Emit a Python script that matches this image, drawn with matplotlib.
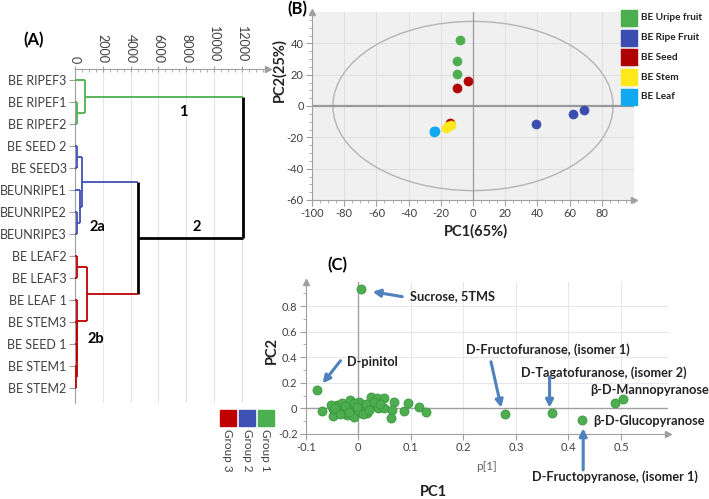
import matplotlib
matplotlib.use('Agg')
import matplotlib.pyplot as plt
from matplotlib.patches import Ellipse, Rectangle
from matplotlib.ticker import MultipleLocator
import numpy as np

plt.rcParams['font.family'] = ['Lato', 'DejaVu Sans']
plt.rcParams['axes.unicode_minus'] = False

W, H = 709, 499

# ---- (A) hierarchical clustering ----
leaves = ['BE RIPEF3', 'BE RIPEF1', 'BE RIPEF2', 'BE SEED 2', 'BE SEED3',
          'BEUNRIPE1', 'BEUNRIPE2', 'BEUNRIPE3', 'BE LEAF2', 'BE LEAF3',
          'BE LEAF 1', 'BE STEM3', 'BE SEED 1', 'BE STEM1', 'BE STEM2']
leaf_group = [1, 1, 1, 2, 2, 2, 2, 2, 3, 3, 3, 3, 3, 3, 3]
# (child a, child b, distance); ids >= 15 refer to earlier merges
merges = [(1, 2, 165), (0, 15, 720), (3, 4, 165), (6, 7, 145), (5, 18, 360),
          (17, 19, 525), (13, 14, 100), (12, 21, 120), (11, 22, 140),
          (10, 23, 170), (8, 9, 150), (25, 24, 840), (20, 26, 4530),
          (16, 27, 12050)]
group_names = ['Group 1', 'Group 2', 'Group 3']
group_colors = {1: '#4caf50', 2: '#3f51b5', 3: '#c00000'}

# ---- (B) PCA scores ----
score_names = ['BE Uripe fruit', 'BE Ripe Fruit', 'BE Seed', 'BE Stem', 'BE Leaf']
score_colors = ['#4cae4f', '#3b4db0', '#b00000', '#ffe81a', '#10a8f0']
score_x = [[-8, -10, -10], [39, 62, 69], [-3, -10, -14],
           [-17, -15.5, -13.5], [-24.5, -24, -23.8]]
score_y = [[42, 29, 20.5], [-11.5, -5, -2.5], [16, 11.5, -11],
           [-14, -13, -12], [-16.5, -16, -15.8]]

# ---- (C) loadings ----
load_x = [0.005, -0.079, -0.070, -0.049, -0.049, -0.040, -0.034, -0.031, -0.021,
          -0.021, -0.015, -0.012, -0.009, -0.005, 0.001, 0.004, 0.010, 0.017,
          0.025, 0.026, 0.036, 0.038, 0.049, 0.048, 0.068, 0.065, 0.063, 0.087,
          0.094, 0.115, 0.129, -0.052, -0.028, -0.045, -0.035, -0.025, -0.018,
          -0.008, 0.0, 0.008, 0.015, 0.020, 0.030, 0.042, -0.002,
          0.280, 0.368, 0.425, 0.489, 0.504]
load_y = [0.93, 0.143, -0.021, -0.060, -0.008, 0.026, -0.026, 0.039, 0.0,
          -0.052, 0.065, -0.013, -0.065, 0.026, 0.052, -0.026, 0.013, -0.039,
          0.091, 0.026, 0.078, 0.0, 0.078, 0.0, 0.047, -0.013, -0.078, -0.021,
          0.039, 0.013, -0.026, 0.026, -0.039, 0.0, -0.045, 0.020, -0.030,
          0.040, -0.010, -0.045, 0.030, -0.010, 0.050, 0.030, 0.010,
          -0.045, -0.040, -0.094, 0.044, 0.075]
# label, text position, arrow tail, arrow head (None = no arrow)
notes = [('Sucrose, 5TMS', (0.099, 0.878), (0.0835, 0.873), (0.027, 0.912)),
         ('D-pinitol', (-0.021, 0.364), (-0.034, 0.372), (-0.068, 0.195)),
         ('D-Fructofuranose, (isomer 1)', (0.204, 0.456), (0.2525, 0.364), (0.272, 0.005)),
         ('D-Tagatofuranose, (isomer 2)', (0.309, 0.278), (0.364, 0.247), (0.364, 0.005)),
         ('\u03b2-D-Mannopyranose', (0.442, 0.143), None, None),
         ('\u03b2-D-Glucopyranose', (0.447, -0.099), None, None),
         ('D-Fructopyranose, (isomer 1)', (0.331, -0.536), (0.428, -0.481), (0.428, -0.156))]

TXT = '#404040'
AX = '#a0a0a0'


def box(l, t, r, b):
    return [l / W, 1 - b / H, (r - l) / W, (b - t) / H]


def fx(x):
    return x / W


def fy(y):
    return 1 - y / H


fig = plt.figure(figsize=(W / 100, H / 100), dpi=100)

# ================= (A) =================
axA = fig.add_axes(box(75, 69, 268, 403))
n = len(leaves)
pos = {i: float(i) for i in range(n)}
hgt = {i: 0.0 for i in range(n)}
grp = {i: {leaf_group[i]} for i in range(n)}


def node_color(k):
    return group_colors[min(grp[k])] if len(grp[k]) == 1 else 'black'


for k, (a, b, d) in enumerate(merges):
    m = n + k
    pos[m] = (pos[a] + pos[b]) / 2
    hgt[m] = d
    grp[m] = grp[a] | grp[b]
    c = node_color(m)
    lw = 2.0 if c == 'black' else 1.3
    axA.plot([d, d], [pos[a], pos[b]], color=c, lw=lw, solid_capstyle='butt',
             zorder=4, clip_on=False)
    for ch in (a, b):
        cc = node_color(ch)
        axA.plot([hgt[ch], d], [pos[ch], pos[ch]], color=cc,
                 lw=2.0 if cc == 'black' else 1.3, solid_capstyle='butt',
                 zorder=4, clip_on=False)

axA.set_xlim(0, 13870)
axA.set_ylim(n - 0.32, -0.5)
axA.xaxis.tick_top()
axA.set_xticks(np.arange(0, 12001, 2000))
axA.xaxis.set_minor_locator(MultipleLocator(500))
axA.set_xticklabels([str(v) for v in range(0, 12001, 2000)], rotation=-90,
                    fontsize=9, color=TXT)
axA.set_yticks(range(n))
axA.set_yticklabels(leaves, fontsize=9, color=TXT)
axA.tick_params(axis='x', which='major', direction='inout', length=5, color=AX, pad=2)
axA.tick_params(axis='x', which='minor', direction='in', length=2.5, color=AX)
axA.tick_params(axis='y', direction='out', length=4, color=AX, pad=2)
for s in ('right', 'bottom'):
    axA.spines[s].set_visible(False)
for s in ('top', 'left'):
    axA.spines[s].set_color(AX)
axA.grid(axis='x', color='#e4e4ee', lw=0.8)
axA.set_axisbelow(True)
axA.plot(1, 1, '>', color=AX, ms=5, transform=axA.transAxes, clip_on=False)

fig.text(fx(34), fy(40), '(A)', fontsize=12, fontweight='bold', ha='center', va='center')
for txt, x, y in [('1', 183, 112), ('2', 197, 227), ('2a', 97, 227), ('2b', 96, 339)]:
    fig.text(fx(x), fy(y), txt, fontsize=10.5, fontweight='bold', ha='center', va='center')

for i, g in enumerate([3, 2, 1]):
    x0 = 220 + i * 19
    fig.add_artist(Rectangle((fx(x0), fy(426)), 16 / W, 16 / H, color=group_colors[g],
                             transform=fig.transFigure))
    fig.text(fx(x0 + 8), fy(429), group_names[g - 1], rotation=-90, fontsize=8.5,
             color=TXT, ha='center', va='top')

# ================= (B) =================
axB = fig.add_axes(box(312, 12, 634, 200))
axB.set_facecolor('#f0f0f0')
axB.add_patch(Ellipse((0, 0), 174, 108, fill=False, ec='#b4b4b4', lw=1))
axB.axhline(0, color='#999999', lw=1.6, zorder=1)
axB.axvline(0, color='#999999', lw=0.9, zorder=1)
for xs, ys, c in zip(score_x, score_y, score_colors):
    axB.scatter(xs, ys, s=42, color=c, edgecolors=c, linewidths=0.5, zorder=3)
axB.set_xlim(-100, 100)
axB.set_ylim(-60, 60)
axB.set_xticks(np.arange(-100, 81, 20))
axB.set_yticks(np.arange(-60, 41, 20))
axB.xaxis.set_minor_locator(MultipleLocator(5))
axB.yaxis.set_minor_locator(MultipleLocator(5))
axB.tick_params(which='major', labelsize=8, labelcolor=TXT, color=AX, length=4, pad=2)
axB.tick_params(which='minor', color=AX, length=2)
axB.grid(color='#dcdcdc', lw=0.6)
axB.set_axisbelow(True)
for s in ('right', 'top'):
    axB.spines[s].set_visible(False)
for s in ('left', 'bottom'):
    axB.spines[s].set_color(AX)
axB.plot(1, 0, '>', color=AX, ms=5, transform=axB.transAxes, clip_on=False)
axB.plot(0, 1, '^', color=AX, ms=5, transform=axB.transAxes, clip_on=False)

fig.text(fx(297), fy(9), '(B)', fontsize=12, fontweight='bold', ha='center', va='center')
fig.text(fx(476), fy(231), 'PC1(65%)', fontsize=10.5, fontweight='bold', ha='center',
         va='center', color='#222222')
fig.text(fx(279), fy(70), 'PC2(25%)', fontsize=10.5, fontweight='bold', rotation=90,
         ha='center', va='center', color='#222222')
for i, (name, c) in enumerate(zip(score_names, score_colors)):
    y0 = 10 + i * 19.7
    fig.add_artist(Rectangle((fx(621), fy(y0 + 16)), 16 / W, 16 / H, color=c,
                             transform=fig.transFigure))
    fig.text(fx(641), fy(y0 + 8), name, fontsize=7.2, fontweight='bold',
             ha='left', va='center', color='#222222')

# ================= (C) =================
axC = fig.add_axes(box(305.8, 281.7, 668.3, 433.9))
axC.axhline(0, color='#a0a0a0', lw=1.0, zorder=1)
axC.axvline(0, color='#a0a0a0', lw=1.0, zorder=1)
axC.scatter(load_x, load_y, s=42, color='#4cae4f', edgecolors='#3d9440',
            linewidths=0.6, zorder=3)
axC.set_xlim(-0.1, 0.59)
axC.set_ylim(-0.2, 0.99)
axC.set_xticks(np.arange(-0.1, 0.51, 0.1))
axC.set_xticklabels(['-0.1', '0', '0.1', '0.2', '0.3', '0.4', '0.5'])
axC.set_yticks(np.arange(-0.2, 0.81, 0.2))
axC.set_yticklabels(['-0.2', '0', '0.2', '0.4', '0.6', '0.8'])
axC.yaxis.set_minor_locator(MultipleLocator(0.1))
axC.tick_params(which='major', labelsize=8, labelcolor=TXT, color=AX, length=4, pad=2)
axC.tick_params(which='minor', color=AX, length=2)
axC.grid(color='#e6e6ee', lw=0.7)
axC.set_axisbelow(True)
for s in ('right', 'top'):
    axC.spines[s].set_visible(False)
for s in ('left', 'bottom'):
    axC.spines[s].set_color(AX)
axC.plot(1, 0, '>', color=AX, ms=5, transform=axC.transAxes, clip_on=False)
axC.plot(0, 1, '^', color=AX, ms=5, transform=axC.transAxes, clip_on=False)

for label, tpos, tail, head in notes:
    axC.text(tpos[0], tpos[1], label, fontsize=9.2, fontweight='bold', color='#222222',
             ha='left', va='center', clip_on=False)
    if tail is not None:
        axC.annotate('', xy=head, xytext=tail, annotation_clip=False,
                     arrowprops=dict(arrowstyle='-|>', color='#4f81bd', lw=2.2,
                                     mutation_scale=11, shrinkA=0, shrinkB=0))

fig.text(fx(486.7), fy(466.7), 'p[1]', fontsize=8.5, color='#606060', ha='center', va='center')
fig.text(fx(433), fy(492), 'PC1', fontsize=10.5, fontweight='bold', ha='center', va='center',
         color='#222222')
fig.text(fx(272), fy(350), 'PC2', fontsize=10.5, fontweight='bold', rotation=90,
         ha='center', va='center', color='#222222')
fig.text(fx(337), fy(265), '(C)', fontsize=12, fontweight='bold', ha='center', va='center')

fig.savefig('out.png', dpi=100)
